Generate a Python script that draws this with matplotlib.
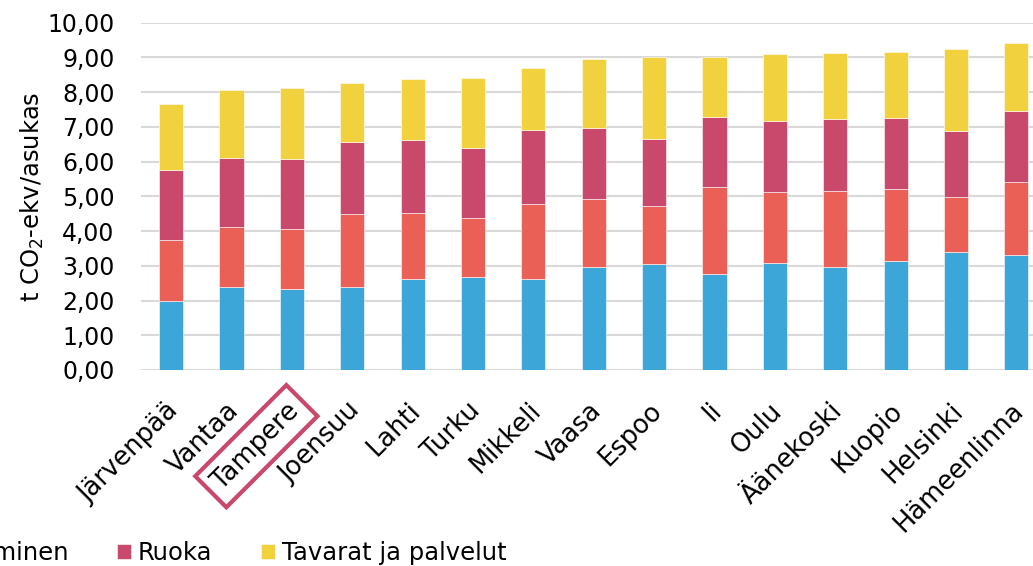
import matplotlib.pyplot as plt
import matplotlib.transforms as mtransforms
import numpy as np

plt.rcParams['font.family'] = ['DejaVu Sans']

cities = ['Järvenpää', 'Vantaa', 'Tampere', 'Joensuu', 'Lahti', 'Turku', 'Mikkeli',
          'Vaasa', 'Espoo', 'Ii', 'Oulu', 'Äänekoski', 'Kuopio', 'Helsinki', 'Hämeenlinna']

asuminen = [2.00, 2.40, 2.33, 2.38, 2.62, 2.67, 2.61, 2.97, 3.04, 2.76, 3.09, 2.96, 3.15, 3.41, 3.30]
liikkuminen = [1.74, 1.71, 1.72, 2.10, 1.89, 1.71, 2.18, 1.95, 1.67, 2.51, 2.03, 2.19, 2.05, 1.58, 2.11]
ruoka = [2.03, 1.98, 2.03, 2.08, 2.11, 2.02, 2.13, 2.06, 1.93, 2.02, 2.05, 2.08, 2.06, 1.90, 2.06]
tavarat = [1.89, 1.97, 2.03, 1.70, 1.75, 2.00, 1.79, 1.97, 2.36, 1.72, 1.93, 1.90, 1.90, 2.35, 1.94]

series = [asuminen, liikkuminen, ruoka, tavarat]
names = ['Asuminen', 'Liikkuminen', 'Ruoka', 'Tavarat ja palvelut']
colors = ['#3ba6d7', '#ea5f56', '#c9496c', '#f2d13f']

W, H = 1033, 566
fig = plt.figure(figsize=(W / 100, H / 100), dpi=100)
# axes spans past the right edge, as in the cropped source
ax = fig.add_axes([141 / W, 196 / H, (1046.5 - 141) / W, (370 - 22.7) / H])

x = np.arange(len(cities))
bottom = np.zeros(len(cities))
for vals, name, col in zip(series, names, colors):
    ax.bar(x, vals, 0.4, bottom=bottom, color=col, label=name,
           edgecolor='white', linewidth=0.4, zorder=3)
    bottom += np.array(vals)

ax.set_xlim(-0.5, len(cities) - 0.5)
ax.set_ylim(0, 10)
ax.set_yticks(np.arange(0, 11, 1))
ax.set_yticklabels([f'{v:.2f}'.replace('.', ',') for v in range(11)], fontsize=17)
ax.grid(axis='y', color='#d9d9d9', linewidth=1.5, zorder=0)
for s in ax.spines.values():
    s.set_visible(False)
ax.tick_params(axis='both', length=0)
ax.tick_params(axis='y', pad=19)
ax.tick_params(axis='x', pad=20)

ax.set_xticks(x)
ax.set_xticklabels(cities, rotation=45, ha='right', rotation_mode='anchor', fontsize=18.5)
shift = mtransforms.ScaledTranslation(-4 / 72, 0, fig.dpi_scale_trans)
for lbl in ax.get_xticklabels():
    lbl.set_transform(lbl.get_transform() + shift)
    if lbl.get_text() == 'Tampere':
        lbl.set_bbox(dict(boxstyle='square,pad=0.35', fc='none', ec='#c9486b', lw=3))

ax.set_ylabel('t CO$_2$-ekv/asukas', fontsize=17.5)
ax.yaxis.set_label_coords(-0.1054, 0.5)

fig.legend(loc='center left', bbox_to_anchor=(-309 / W, 1 - 553 / H), ncol=4,
           frameon=False, fontsize=17.5, handlelength=0.55, handleheight=0.55,
           handletextpad=0.3, columnspacing=2.0)

fig.savefig('out.png', dpi=100)
